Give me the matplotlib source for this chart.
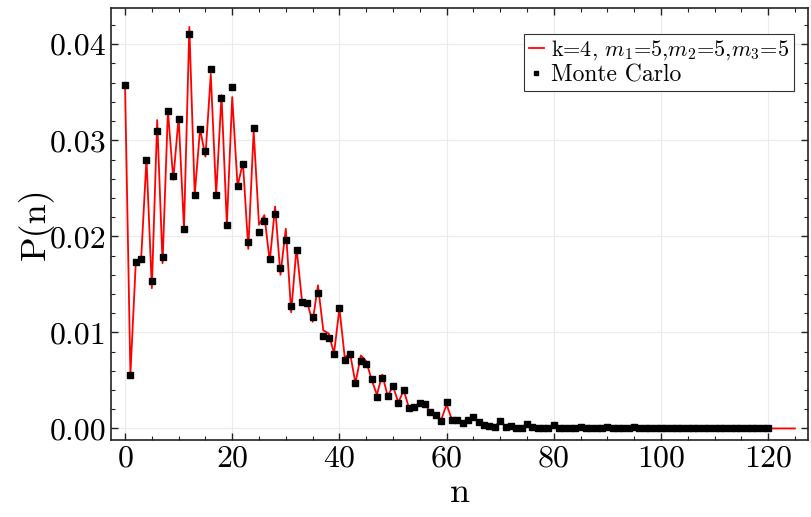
import numpy as np
import matplotlib
matplotlib.use("Agg")
import matplotlib.pyplot as plt
from matplotlib.ticker import MultipleLocator

plt.rcParams['font.family'] = 'cmr10'
plt.rcParams['mathtext.fontset'] = 'cm'
plt.rcParams['axes.formatter.use_mathtext'] = True

# Monte Carlo estimate, n = 0..120
mc = [0.0358, 0.0056, 0.0173, 0.0176, 0.0280, 0.0154, 0.0310, 0.0179, 0.0331, 0.0263,
      0.0322, 0.0208, 0.0411, 0.0243, 0.0312, 0.0289, 0.0374, 0.0243, 0.0344, 0.0212,
      0.0355, 0.0252, 0.0275, 0.0194, 0.0313, 0.0205, 0.0216, 0.0176, 0.0223, 0.0167,
      0.0196, 0.0127, 0.0186, 0.0132, 0.0131, 0.0116, 0.0141, 0.0096, 0.0094, 0.0078,
      0.0125, 0.0071, 0.0078, 0.0047, 0.0070, 0.0067, 0.0051, 0.0033, 0.0053, 0.0034,
      0.0044, 0.0027, 0.0040, 0.0021, 0.0022, 0.0027, 0.0025, 0.0017, 0.0014, 0.0008,
      0.0028, 0.0009, 0.0009, 0.0006, 0.0009, 0.0012, 0.0007, 0.0004, 0.0003, 0.0002,
      0.0008, 0.0002, 0.0003, 0.0000, 0.0000, 0.0005, 0.0002, 0.0000, 0.0000, 0.0000,
      0.0004, 0.0000, 0.0000, 0.0000, 0.0000, 0.0001, 0.0000, 0.0000, 0.0000, 0.0000,
      0.0001, 0.0000, 0.0000, 0.0000, 0.0000, 0.0001, 0.0000, 0.0000, 0.0000, 0.0000,
      0.0000, 0.0000, 0.0000, 0.0000, 0.0000, 0.0000, 0.0000, 0.0000, 0.0000, 0.0000,
      0.0000, 0.0000, 0.0000, 0.0000, 0.0000, 0.0000, 0.0000, 0.0000, 0.0000, 0.0000,
      0.0000]

# theory curve, n = 0..125
theory = [0.0358, 0.0056, 0.0172, 0.0176, 0.0281, 0.0146, 0.0321, 0.0172, 0.0331, 0.0259,
          0.0324, 0.0208, 0.0418, 0.0243, 0.0312, 0.0283, 0.0369, 0.0243, 0.0347, 0.0212,
          0.0345, 0.0252, 0.0277, 0.0187, 0.0310, 0.0212, 0.0222, 0.0174, 0.0231, 0.0160,
          0.0208, 0.0121, 0.0188, 0.0134, 0.0131, 0.0111, 0.0149, 0.0102, 0.0099, 0.0078,
          0.0125, 0.0074, 0.0078, 0.0047, 0.0076, 0.0070, 0.0051, 0.0035, 0.0056, 0.0034,
          0.0044, 0.0027, 0.0040, 0.0021, 0.0022, 0.0027, 0.0025, 0.0017, 0.0013, 0.0009,
          0.0025, 0.0009, 0.0009, 0.0006, 0.0009, 0.0012, 0.0007, 0.0004, 0.0003, 0.0002,
          0.0008, 0.0002, 0.0003, 0.0000, 0.0000, 0.0005, 0.0002, 0.0000, 0.0000, 0.0000,
          0.0004, 0.0000, 0.0000, 0.0000, 0.0000, 0.0001, 0.0000, 0.0000, 0.0000, 0.0000,
          0.0001, 0.0000, 0.0000, 0.0000, 0.0000, 0.0001, 0.0000, 0.0000, 0.0000, 0.0000,
          0.0000, 0.0000, 0.0000, 0.0000, 0.0000, 0.0000, 0.0000, 0.0000, 0.0000, 0.0000,
          0.0000, 0.0000, 0.0000, 0.0000, 0.0000, 0.0000, 0.0000, 0.0000, 0.0000, 0.0000,
          0.0000, 0.0000, 0.0000, 0.0000, 0.0000, 0.0000]

n_mc = np.arange(len(mc))
n_th = np.arange(len(theory))

fig = plt.figure(figsize=(8.11, 5.17), dpi=100)
ax = fig.add_axes([0.137, 0.149, 0.859, 0.836])

ax.plot(n_th, theory, color='red', lw=1.3, label=r'k=4, $m_1$=5,$m_2$=5,$m_3$=5', zorder=2)
ax.plot(n_mc, mc, ls='none', marker='s', ms=4.2, color='black', label='Monte Carlo', zorder=3)

ax.set_xlim(-2.6, 127.4)
ax.set_ylim(-0.0012, 0.0438)
ax.xaxis.set_major_locator(MultipleLocator(20))
ax.xaxis.set_minor_locator(MultipleLocator(5))
ax.yaxis.set_major_locator(MultipleLocator(0.01))
ax.yaxis.set_minor_locator(MultipleLocator(0.002))
ax.yaxis.set_major_formatter(matplotlib.ticker.FormatStrFormatter('%.2f'))

ax.grid(True, which='major', color='#ebebeb', lw=0.8, zorder=0)
ax.set_axisbelow(True)
ax.tick_params(which='both', direction='in', top=True, right=True, labelsize=23, color='#222222')
ax.tick_params(which='major', length=5, width=1)
ax.tick_params(which='minor', length=3, width=0.8)
for s in ax.spines.values():
    s.set_linewidth(1.2)
    s.set_color('#222222')

ax.set_xlabel('n', fontsize=26, labelpad=4)
ax.set_ylabel('P(n)', fontsize=26, labelpad=-3)

leg = ax.legend(loc='upper right', bbox_to_anchor=(0.980, 0.940), borderaxespad=0,
                fontsize=17, handlelength=0.65, handletextpad=0.3, borderpad=0.2,
                labelspacing=0.1, fancybox=False, framealpha=1, edgecolor='#333333',
                markerscale=0.7)
leg.get_frame().set_linewidth(0.8)
leg.get_texts()[0].set_fontsize(16)

fig.savefig('out.png', dpi=100)
